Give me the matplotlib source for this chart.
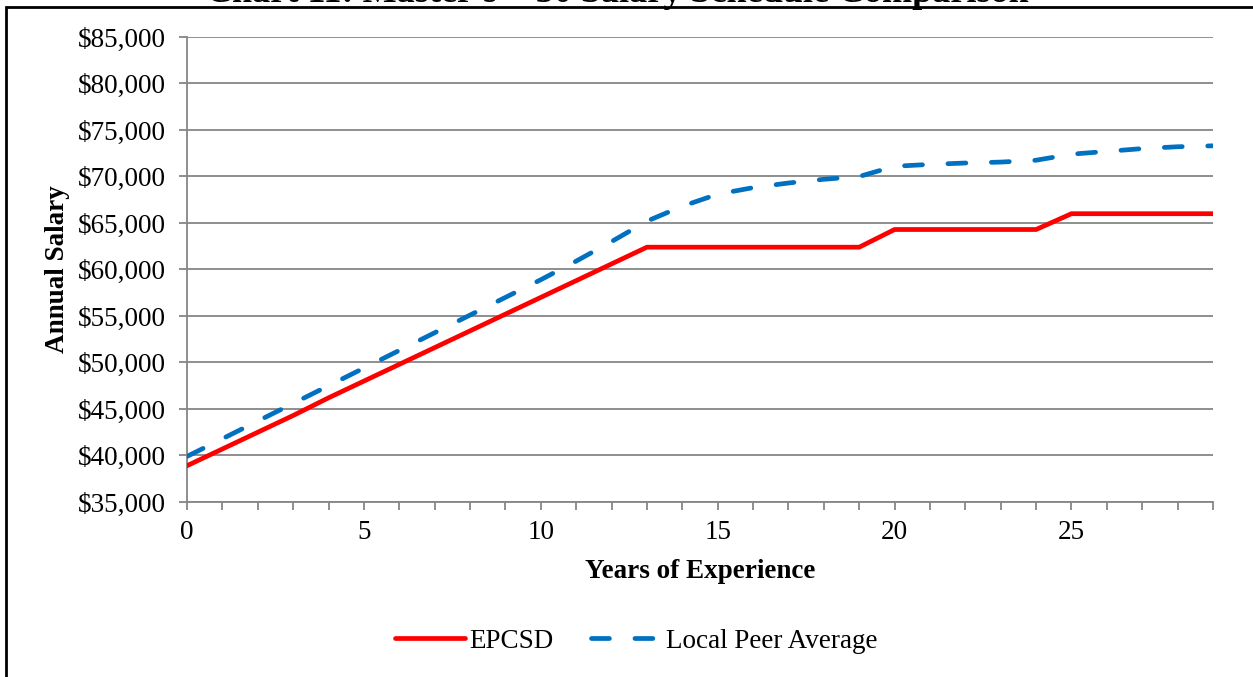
import matplotlib
matplotlib.use("Agg")
import matplotlib.pyplot as plt
from matplotlib.patches import Rectangle
from matplotlib.ticker import FuncFormatter, MultipleLocator

plt.rcParams["font.family"] = ["Liberation Serif", "DejaVu Serif"]

years = list(range(30))
epcsd = [38900, 40700, 42500, 44300, 46200, 48000, 49800, 51600, 53400, 55200,
         57000, 58800, 60600, 62400, 62400, 62400, 62400, 62400, 62400, 62400,
         64300, 64300, 64300, 64300, 64300, 66000, 66000, 66000, 66000, 66000]
peer_avg = [39900, 41800, 43700, 45600, 47500, 49400, 51300, 53200, 55100, 57000,
            58900, 60900, 63000, 65200, 66800, 68100, 68800, 69300, 69700, 70000,
            71100, 71300, 71450, 71550, 71750, 72400, 72700, 73000, 73200, 73300]
title = "Chart 11: Master's + 30 Salary Schedule Comparison"

GRID = "#868686"
FS = 19.5

fig = plt.figure(figsize=(12.53, 6.77), dpi=100)
ax = fig.add_axes([187 / 1253, 1 - 502 / 677, 1026 / 1253, 465 / 677])

ax.plot(years, epcsd, color="#FF0000", linewidth=3.4, solid_capstyle="round",
        solid_joinstyle="miter", label="EPCSD", zorder=3)
ax.plot(years, peer_avg, color="#0070C0", linewidth=3.4, dashes=(3.8, 5.4),
        dash_capstyle="round", label="Local Peer Average", zorder=3)

ax.set_xlim(0, 29)
ax.set_ylim(35000, 85000)
ax.xaxis.set_major_locator(MultipleLocator(5))
ax.xaxis.set_minor_locator(MultipleLocator(1))
ax.yaxis.set_major_locator(MultipleLocator(5000))
ax.yaxis.set_major_formatter(FuncFormatter(lambda v, _: f"${v:,.0f}"))

ax.grid(axis="y", color=GRID, linewidth=1.3, zorder=1)
for side in ("top", "right"):
    ax.spines[side].set_visible(False)
for side in ("left", "bottom"):
    ax.spines[side].set_color(GRID)
    ax.spines[side].set_linewidth(1.3)
ax.tick_params(axis="both", which="both", direction="out", color=GRID,
               width=1.3, length=6, labelsize=FS, pad=9)
ax.tick_params(axis="x", which="major", pad=7)

ax.set_xlabel("Years of Experience", fontsize=FS, fontweight="bold", labelpad=10)
ax.set_ylabel("Annual Salary", fontsize=FS, fontweight="bold", labelpad=6)

ax.legend(loc="center", bbox_to_anchor=(636 / 1253, 1 - 641 / 677),
          bbox_transform=fig.transFigure, ncol=2, frameon=False, fontsize=FS,
          handlelength=2.6, handletextpad=0.15, columnspacing=1.4)

# heading sits mostly above the top edge, only its lower strip shows
fig.text(617 / 1253, 1 - 2 / 677, title, ha="center", va="baseline",
         fontsize=26, fontweight="bold")
fig.patches.append(Rectangle((6 / 1253, -0.1), 1.1, 1 - 7 / 677 + 0.1,
                             transform=fig.transFigure, fill=False,
                             edgecolor="black", linewidth=2))

fig.savefig("out.png", dpi=100)
